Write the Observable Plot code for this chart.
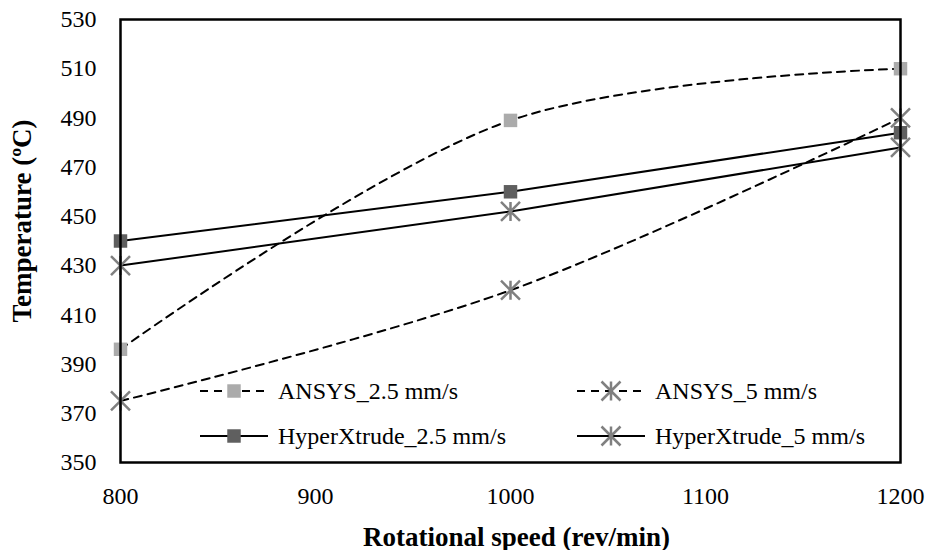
<!DOCTYPE html>
<html>
<head>
<meta charset="utf-8">
<script src="https://cdn.jsdelivr.net/npm/d3@7"></script>
<script src="https://cdn.jsdelivr.net/npm/@observablehq/plot@0.6"></script>
<style>
  html, body { margin: 0; padding: 0; background: #fff; }
  #wrap { position: relative; width: 927px; height: 550px; }
  .leg { position: absolute; display: flex; align-items: center; font-size: 24px; color: #000; white-space: nowrap; }
  .leg svg { margin-right: 8px; flex: none; }
</style>
</head>
<body>
<div id="wrap"></div>
<script>
// ---- data ----
const speeds = [800, 1000, 1200];
const ansys25 = [396, 489, 510];
const ansys5 = [375, 420, 490];
const hyper25 = [440, 460, 484];
const hyper5 = [430, 452, 478];
const seriesNames = ["ANSYS_2.5 mm/s", "ANSYS_5 mm/s", "HyperXtrude_2.5 mm/s", "HyperXtrude_5 mm/s"];
const xTicks = [800, 900, 1000, 1100, 1200];
const yTicks = [350, 370, 390, 410, 430, 450, 470, 490, 510, 530];
const xTitle = "Rotational speed (rev/min)";
const yTitle = "Temperature (ºC)";

const FONT = "'Liberation Serif', serif";

// ---- styles per series ----
const star = {
  draw(ctx, size) {
    const r = Math.sqrt(size / Math.PI);
    ctx.moveTo(0, -r); ctx.lineTo(0, r);
    ctx.moveTo(-r, -r); ctx.lineTo(r, r);
    ctx.moveTo(-r, r); ctx.lineTo(r, -r);
  }
};
const styles = {
  "ANSYS_2.5 mm/s": {dash: "8,6", symbol: "square", fill: "#ababab", stroke: "none", r: 7.6},
  "ANSYS_5 mm/s": {dash: "8,6", symbol: star, fill: "none", stroke: "#808080", r: 9.5},
  "HyperXtrude_2.5 mm/s": {dash: null, symbol: "square", fill: "#5f5f5f", stroke: "none", r: 7.6},
  "HyperXtrude_5 mm/s": {dash: null, symbol: star, fill: "none", stroke: "#808080", r: 9.5}
};

const seriesValues = [ansys25, ansys5, hyper25, hyper5];
const rows = [];
seriesNames.forEach((s, i) => speeds.forEach((sp, j) => rows.push({series: s, speed: sp, temp: seriesValues[i][j]})));

const marks = [];
for (const s of seriesNames) {
  const st = styles[s];
  const data = rows.filter(d => d.series === s);
  marks.push(Plot.line(data, {
    x: "speed", y: "temp", stroke: "black", strokeWidth: 2,
    curve: st.dash ? "catmull-rom" : "linear",
    strokeDasharray: st.dash
  }));
}
for (const s of seriesNames) {
  const st = styles[s];
  const data = rows.filter(d => d.series === s);
  marks.push(Plot.dot(data, {
    x: "speed", y: "temp", symbol: () => st.symbol, r: st.r,
    fill: st.fill, stroke: st.stroke, strokeWidth: 2.5
  }));
}

const chart = Plot.plot({
  width: 927, height: 550,
  marginLeft: 120, marginRight: 27, marginTop: 19, marginBottom: 88,
  style: {fontSize: "24px", color: "#000", background: "#fff"},
  x: {domain: [800, 1200], axis: null},
  y: {domain: [350, 530], axis: null},
  symbol: {type: "identity"},
  marks: [
    Plot.axisX({ticks: xTicks, tickSize: 0, tickPadding: 24, label: null, tickFormat: d => String(d)}),
    Plot.axisY({ticks: yTicks, tickSize: 0, tickPadding: 24, label: null, tickFormat: d => String(d)}),
    ...marks,
    Plot.frame({stroke: "black", strokeWidth: 2.5}),
    Plot.text([xTitle], {frameAnchor: "bottom", dx: 6, dy: 75, textAnchor: "middle", lineAnchor: "middle", text: d => d, fontWeight: "bold", fontSize: 27}),
    Plot.text([yTitle], {frameAnchor: "left", dx: -98, dy: -20, rotate: -90, textAnchor: "middle", lineAnchor: "middle", text: d => d, fontWeight: "bold", fontSize: 27})
  ]
});
chart.style.fontFamily = FONT;
chart.querySelectorAll("text, g").forEach(el => { el.style.fontFamily = FONT; el.style.fontVariant = "normal"; });

const wrap = document.getElementById("wrap");
wrap.appendChild(chart);

// ---- legend (overlay inside plot area) ----
const legPos = [
  {left: 200, top: 391}, {left: 577, top: 391},
  {left: 200, top: 436}, {left: 577, top: 436}
];
const legOrder = ["ANSYS_2.5 mm/s", "ANSYS_5 mm/s", "HyperXtrude_2.5 mm/s", "HyperXtrude_5 mm/s"];
legOrder.forEach((s, i) => {
  const st = styles[s];
  const div = document.createElement("div");
  div.className = "leg";
  div.style.fontFamily = FONT;
  div.style.left = legPos[i].left + "px";
  div.style.top = (legPos[i].top - 15) + "px";
  div.style.height = "30px";
  const svg = d3.create("svg").attr("width", 70).attr("height", 30);
  svg.append("line").attr("x1", 0).attr("x2", 68).attr("y1", 15).attr("y2", 15)
    .attr("stroke", "black").attr("stroke-width", 2).attr("stroke-dasharray", st.dash);
  const symType = st.symbol === "square" ? d3.symbolSquare : st.symbol;
  svg.append("path").attr("transform", "translate(34,15)")
    .attr("d", d3.symbol(symType, st.r * st.r * Math.PI)())
    .attr("fill", st.fill).attr("stroke", st.stroke).attr("stroke-width", 2.5);
  div.appendChild(svg.node());
  const span = document.createElement("span");
  span.style.fontFamily = FONT;
  span.textContent = s;
  div.appendChild(span);
  wrap.appendChild(div);
});
</script>
</body>
</html>
